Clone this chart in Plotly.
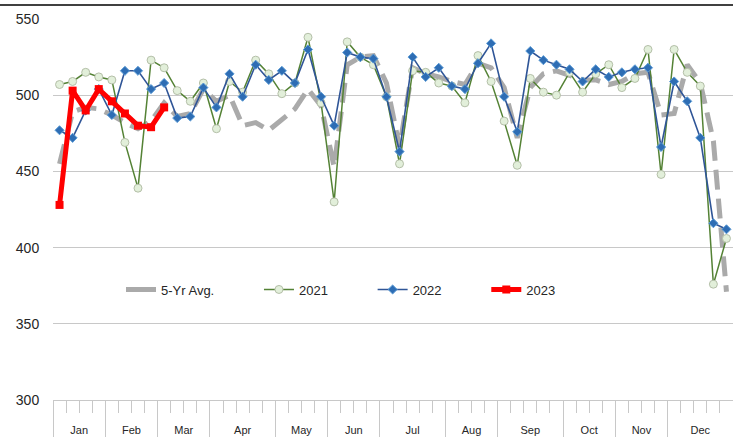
import plotly.graph_objects as go

# ---- data ----
months = ["Jan", "Feb", "Mar", "Apr", "May", "Jun", "Jul", "Aug", "Sep", "Oct", "Nov", "Dec"]
weeks_per_month = [4, 4, 4, 5, 4, 4, 5, 4, 5, 4, 4, 5]
weeks = list(range(1, 53))
series_names = ["5-Yr Avg.", "2021", "2022", "2023"]

avg5 = [455, 489, 492, 491, 487, 482, 478, 483, 495, 486, 488, 504, 496, 500, 480, 482,
        477, 484, 491, 504, 493, 453, 520, 525, 526, 508, 466, 518, 514, 512, 509, 507,
        521, 518, 505, 472, 505, 514, 516, 513, 510, 510, 507, 509, 514, 515, 487, 488,
        520, 508, 470, 371]
y2021 = [507, 509, 515, 512, 510, 469, 439, 523, 518, 503, 496, 508, 478, 509, 502, 523,
         514, 501, 508, 538, 495, 430, 535, 525, 520, 499, 455, 516, 515, 508, 506, 495,
         526, 509, 483, 454, 511, 502, 500, 515, 502, 514, 520, 505, 511, 530, 448, 530,
         515, 506, 376, 406]
y2022 = [477, 472, 490, 504, 487, 516, 516, 504, 508, 485, 486, 505, 492, 514, 499, 520,
         510, 516, 508, 530, 499, 480, 528, 525, 524, 499, 463, 525, 512, 518, 506, 504,
         521, 534, 499, 476, 529, 523, 520, 517, 509, 517, 512, 515, 517, 518, 466, 509,
         496, 472, 416, 412]
y2023 = [428, 503, 490, 504, 496, 488, 480, 479, 492]

# ---- derived axis positions ----
bounds = [0.5]
for n in weeks_per_month:
    bounds.append(bounds[-1] + n)
centers = [(bounds[i] + bounds[i + 1]) / 2 for i in range(len(months))]
week_edges = [0.5 + k for k in range(53)]

FONT = "Liberation Sans"
GRID = "#C8C8C8"
TXT = "#262626"
GRAY = "#AAAAAA"
PAD = "\u00a0" * 11  # legend spacing like the original


def legend_name(i):
    return series_names[i] + (PAD if i < len(series_names) - 1 else "")


fig = go.Figure()
fig.add_trace(go.Scatter(
    x=weeks, y=avg5, name=series_names[0], mode="lines", showlegend=False,
    legendgroup="avg", line=dict(color=GRAY, width=5, dash="20px,9px"),
))
# legend entry for the average (solid sample, as in the original legend)
fig.add_trace(go.Scatter(
    x=[None], y=[None], name=legend_name(0), mode="lines", legendgroup="avg",
    line=dict(color=GRAY, width=5), hoverinfo="skip",
))
fig.add_trace(go.Scatter(
    x=weeks, y=y2021, name=legend_name(1), mode="lines+markers",
    line=dict(color="#548235", width=1.5),
    marker=dict(symbol="circle", size=8, color="#E2EFDA", line=dict(color="#B4BFA8", width=1)),
))
fig.add_trace(go.Scatter(
    x=weeks, y=y2022, name=legend_name(2), mode="lines+markers",
    line=dict(color="#2F5597", width=1.6),
    marker=dict(symbol="diamond", size=7, color="#2E6DB4", line=dict(color="#5B9BD5", width=1)),
))
fig.add_trace(go.Scatter(
    x=weeks[:len(y2023)], y=y2023, name=legend_name(3), mode="lines+markers",
    line=dict(color="#FF0000", width=5),
    marker=dict(symbol="square", size=8, color="#FF0000"),
))

# month labels on an overlay axis
fig.add_trace(go.Scatter(x=[bounds[0], bounds[-1]], y=[None, None], xaxis="x2",
                         showlegend=False, hoverinfo="skip"))

fig.update_layout(
    width=733, height=437,
    margin=dict(l=53, r=0, t=19, b=37),
    paper_bgcolor="white", plot_bgcolor="white",
    font=dict(family=FONT, size=13, color=TXT),
    showlegend=True,
    legend=dict(orientation="h", x=0.1, xanchor="left", y=0.29, yanchor="middle",
                bgcolor="rgba(0,0,0,0)", font=dict(size=13, color=TXT),
                itemwidth=30, tracegroupgap=0),
    xaxis=dict(
        range=[bounds[0], bounds[-1]], showgrid=False, zeroline=False,
        showline=True, linecolor=GRID, linewidth=1,
        tickmode="array", tickvals=bounds, showticklabels=False,
        ticks="outside", ticklen=37, tickcolor=GRID, tickwidth=1,
        minor=dict(tickmode="array", tickvals=week_edges, ticks="outside",
                   ticklen=12, tickcolor=GRID, tickwidth=1, showgrid=False),
    ),
    xaxis2=dict(
        overlaying="x", anchor="y", side="bottom",
        range=[bounds[0], bounds[-1]], showgrid=False, zeroline=False, showline=False,
        tickmode="array", tickvals=centers, ticktext=months,
        ticks="outside", ticklen=20, tickcolor="rgba(0,0,0,0)",
        tickfont=dict(size=11, color=TXT),
    ),
    yaxis=dict(
        range=[300, 550], dtick=50, tick0=300,
        showgrid=True, gridcolor=GRID, gridwidth=1,
        zeroline=False, showline=False,
        ticks="outside", ticklen=10, tickcolor="rgba(0,0,0,0)",
        tickfont=dict(size=14, color=TXT),
    ),
    shapes=[dict(type="line", xref="paper", yref="paper", layer="above",
                 x0=-53 / 680, x1=1, y0=1 + 14 / 381, y1=1 + 14 / 381,
                 line=dict(color="#404040", width=2))],
)

# remove the browser's default body margin so the figure fills the window exactly
fig.write_html("out.html", config={"displayModeBar": False},
               post_script="document.body.style.margin='0';")
